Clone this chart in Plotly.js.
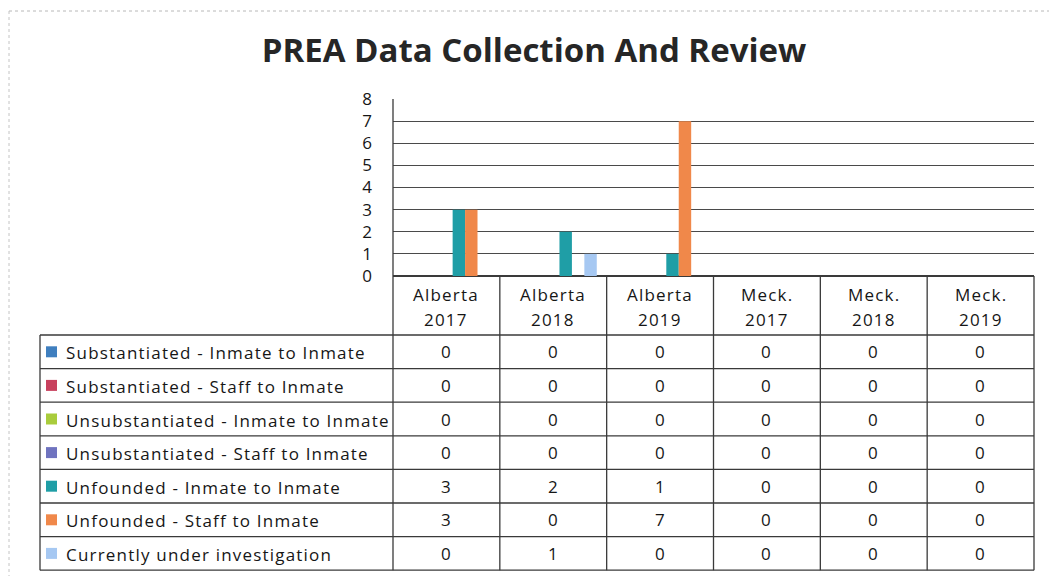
<!DOCTYPE html>
<html>
<head>
<meta charset="utf-8">
<script src="https://cdn.plot.ly/plotly-3.0.1.min.js"></script>
<style>
html,body{margin:0;padding:0;background:#fff;}
#chart{width:1049px;height:576px;}
.annotation-text{letter-spacing:1.2px;}
</style>
</head>
<body>
<div id="chart"></div>
<script>
// ---- data ----
const categories = ['Alberta 2017', 'Alberta 2018', 'Alberta 2019', 'Meck. 2017', 'Meck. 2018', 'Meck. 2019'];
const seriesNames = [
  'Substantiated - Inmate to Inmate',
  'Substantiated - Staff to Inmate',
  'Unsubstantiated - Inmate to Inmate',
  'Unsubstantiated - Staff to Inmate',
  'Unfounded - Inmate to Inmate',
  'Unfounded - Staff to Inmate',
  'Currently under investigation'
];
const substantiatedInmate   = [0, 0, 0, 0, 0, 0];
const substantiatedStaff    = [0, 0, 0, 0, 0, 0];
const unsubstantiatedInmate = [0, 0, 0, 0, 0, 0];
const unsubstantiatedStaff  = [0, 0, 0, 0, 0, 0];
const unfoundedInmate       = [3, 2, 1, 0, 0, 0];
const unfoundedStaff        = [3, 0, 7, 0, 0, 0];
const underInvestigation    = [0, 1, 0, 0, 0, 0];
const yTicks = [0, 1, 2, 3, 4, 5, 6, 7, 8];

const seriesValues = [substantiatedInmate, substantiatedStaff, unsubstantiatedInmate,
  unsubstantiatedStaff, unfoundedInmate, unfoundedStaff, underInvestigation];
const seriesColors = ['#3f7fbf', '#c8415e', '#a9cc3c', '#6f73bf', '#1f9ea6', '#f0884a', '#a6c8f2'];

// ---- geometry (pixels) ----
const W = 1049, H = 576;
const L = 393, R = 1034, T = 99, B = 276;
const px2x = p => (p - L) / (R - L);
const px2y = p => (B - p) / (B - T);
const tableLeft = 40, headTop = B, rowTop = 335, rowH = 33.6, nRows = seriesNames.length;
const tableBottom = rowTop + rowH * nRows;
const lineCol = '#3a3a3a';
const fontFam = '"Open Sans", "Liberation Sans", sans-serif';
const txtCol = '#161616';

const traces = seriesNames.map((name, i) => ({
  type: 'bar', name: name, x: categories, y: seriesValues[i],
  marker: {color: seriesColors[i], line: {width: 0}},
  hoverinfo: 'x+y+name'
}));

const shapes = [];
const annotations = [];

// frame of the scanned page
shapes.push({type: 'line', xref: 'paper', yref: 'paper', x0: px2x(9), x1: px2x(1049), y0: px2y(11), y1: px2y(11), line: {color: '#b8b8b8', width: 1, dash: 'dot'}});
shapes.push({type: 'line', xref: 'paper', yref: 'paper', x0: px2x(9), x1: px2x(9), y0: px2y(11), y1: px2y(576), line: {color: '#c4c4c4', width: 1, dash: 'dot'}});

// vertical axis line extending through the table
shapes.push({type: 'line', xref: 'paper', yref: 'paper', x0: 0, x1: 0, y0: 1, y1: px2y(tableBottom), line: {color: lineCol, width: 1.3}});
// column separators
for (let k = 1; k <= categories.length; k++) {
  const xp = k / categories.length;
  shapes.push({type: 'line', xref: 'paper', yref: 'paper', x0: xp, x1: xp, y0: px2y(headTop), y1: px2y(tableBottom), line: {color: lineCol, width: 1.3}});
}
// label column left border
shapes.push({type: 'line', xref: 'paper', yref: 'paper', x0: px2x(tableLeft), x1: px2x(tableLeft), y0: px2y(rowTop), y1: px2y(tableBottom), line: {color: lineCol, width: 1.3}});
// row lines
for (let r = 0; r <= nRows; r++) {
  const yp = px2y(rowTop + r * rowH);
  shapes.push({type: 'line', xref: 'paper', yref: 'paper', x0: px2x(tableLeft), x1: 1, y0: yp, y1: yp, line: {color: lineCol, width: 1.3}});
}
// header cells (category names, two lines)
categories.forEach(c => {
  const parts = c.split(' ');
  annotations.push({xref: 'x', yref: 'paper', x: c, y: px2y(294), xanchor: 'center', yanchor: 'middle', showarrow: false, text: parts[0], font: {family: fontFam, size: 17, color: txtCol}});
  annotations.push({xref: 'x', yref: 'paper', x: c, y: px2y(319), xanchor: 'center', yanchor: 'middle', showarrow: false, text: parts[1], font: {family: fontFam, size: 17, color: txtCol}});
});
// legend keys, row labels and values
seriesNames.forEach((name, r) => {
  const cy = rowTop + r * rowH + rowH / 2;
  shapes.push({type: 'rect', xref: 'paper', yref: 'paper', x0: px2x(46), x1: px2x(57), y0: px2y(cy - 5.5), y1: px2y(cy + 5.5), fillcolor: seriesColors[r], line: {width: 0}});
  annotations.push({xref: 'paper', yref: 'paper', x: px2x(64), y: px2y(cy + 1), xanchor: 'left', yanchor: 'middle', showarrow: false, text: name, font: {family: fontFam, size: 17, color: txtCol}});
  seriesValues[r].forEach((v, i) => {
    annotations.push({xref: 'x', yref: 'paper', x: categories[i], y: px2y(cy), xanchor: 'center', yanchor: 'middle', showarrow: false, text: String(v), font: {family: fontFam, size: 17, color: txtCol}});
  });
});

const layout = {
  width: W, height: H,
  margin: {l: L, r: W - R, t: T, b: H - B, pad: 0},
  paper_bgcolor: '#ffffff', plot_bgcolor: '#ffffff',
  showlegend: false,
  barmode: 'group', bargap: 0.185, bargroupgap: 0,
  title: {
    text: 'PREA Data Collection And Review',
    font: {family: fontFam, size: 33, color: '#262626', weight: 700},
    x: 534 / W, xref: 'container', xanchor: 'center',
    y: 1 - 50 / H, yref: 'container', yanchor: 'middle'
  },
  xaxis: {
    type: 'category', categoryarray: categories,
    showgrid: false, zeroline: false, showline: false, ticks: '',
    showticklabels: false,
    fixedrange: true
  },
  yaxis: {
    range: [0, 8], tickvals: yTicks, ticktext: yTicks.map(String),
    showgrid: true, gridcolor: '#4a4a4a', gridwidth: 1,
    zeroline: true, zerolinecolor: '#3a3a3a', zerolinewidth: 1.3,
    showline: false, ticks: '', ticklabelstandoff: 20,
    tickfont: {family: fontFam, size: 17, color: txtCol},
    fixedrange: true
  },
  shapes: shapes,
  annotations: annotations
};

Plotly.newPlot('chart', traces, layout, {displayModeBar: false, staticPlot: true});
</script>
</body>
</html>
